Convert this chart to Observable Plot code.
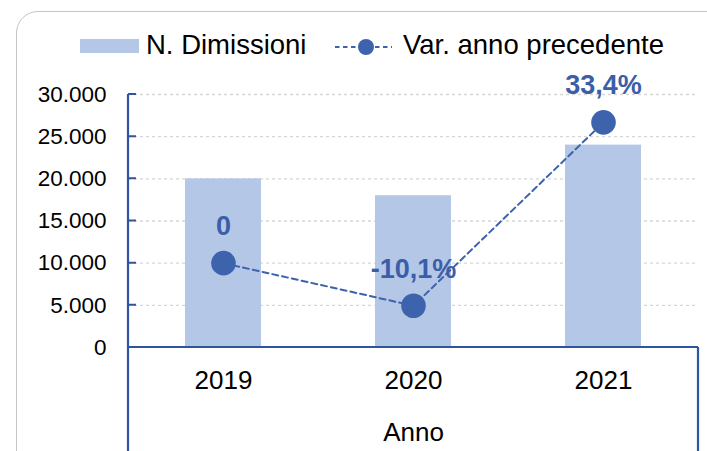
<!DOCTYPE html>
<html><head><meta charset="utf-8">
<script src="https://cdn.jsdelivr.net/npm/d3@7"></script>
<script src="https://cdn.jsdelivr.net/npm/@observablehq/plot@0.6"></script>
<style>
html,body{margin:0;padding:0;background:#fff;overflow:hidden;}
#wrap{position:relative;width:707px;height:451px;overflow:hidden;font-family:"Liberation Sans",Arial,sans-serif;}
#chart{position:absolute;left:0;top:0;}
#border{position:absolute;left:16px;top:11px;width:760px;height:520px;border:1.5px solid #c4c4c4;border-radius:22px;box-sizing:border-box;pointer-events:none;}
#legend{position:absolute;left:0;top:0;}
</style></head>
<body><div id="wrap"><div id="chart"></div><div id="border"></div><svg id="legend" width="707" height="70"></svg></div>
<script>
const years = ["2019", "2020", "2021"];
const dimissioni = [20000, 18000, 24000];
const varPct = [0, -10.1, 33.4];
const varLabels = ["0", "-10,1%", "33,4%"];
const yTicks = [0, 5000, 10000, 15000, 20000, 25000, 30000];
const secondaryDomain = [-20, 40];
const seriesNames = ["N. Dimissioni", "Var. anno precedente"];
const axisTitle = "Anno";

const barColor = "#b4c7e7";
const lineColor = "#3d63ad";
const labelColor = "#3b5ea8";
const axisColor = "#2f55a0";
const font = '"Liberation Sans", Arial, sans-serif';

const fmt = d3.formatLocale({decimal: ",", thousands: ".", grouping: [3], currency: ["", "€"]}).format(",");
const sec = d3.scaleLinear().domain(secondaryDomain).range([yTicks[0], yTicks[yTicks.length - 1]]);
const data = years.map((y, i) => ({year: y, n: dimissioni[i], yl: sec(varPct[i]), label: varLabels[i]}));

function axisBox(index, scales, values, dims) {
  const x0 = dims.marginLeft, x1 = dims.width - dims.marginRight;
  const yb = dims.height - dims.marginBottom, yt = dims.marginTop;
  const g = d3.create("svg:g").attr("fill", "none").attr("stroke", axisColor);
  const tickLen = 8;
  g.append("path")
    .attr("d", yTicks.map(v => `M${x0},${scales.y(v)}h${tickLen}`).join(""))
    .attr("stroke-width", 2);
  g.append("path")
    .attr("d", `M${x0},${yt}V${dims.height}M${x1},${yb}V${dims.height}M${x0},${yb}H${x1}`)
    .attr("stroke-width", 2.2);
  return g.node();
}

const chart = Plot.plot({
  width: 707,
  height: 451,
  marginLeft: 128,
  marginRight: 9,
  marginTop: 94,
  marginBottom: 104,
  style: {fontFamily: font, background: "transparent"},
  x: {domain: years, paddingInner: 0.6, paddingOuter: 0.3},
  y: {domain: [0, 30000]},
  marks: [
    Plot.gridY(yTicks.slice(1), {stroke: "#d6d6d6", strokeOpacity: 1, strokeWidth: 1.3, strokeDasharray: "3,3"}),
    Plot.barY(data, {x: "year", y: "n", fill: barColor}),
    Plot.line(data, {x: "year", y: "yl", stroke: lineColor, strokeWidth: 2, strokeDasharray: "6,4"}),
    Plot.dot(data, {x: "year", y: "yl", r: 12.3, fill: lineColor}),
    Plot.text(data, {x: "year", y: "yl", text: "label", lineAnchor: "bottom", dy: -28, fontWeight: "bold", fontSize: 27, fill: labelColor}),
    Plot.axisY({ticks: yTicks, tickSize: 0, tickPadding: 22, tickFormat: fmt, fontSize: 22.5, fill: "#000", label: null}),
    Plot.axisX({tickSize: 0, tickPadding: 23, fontSize: 26, fill: "#000", label: null}),
    Plot.text([axisTitle], {frameAnchor: "bottom", dy: 93, lineAnchor: "bottom", fontSize: 26, fill: "#000", text: d => d}),
    axisBox
  ]
});
document.getElementById("chart").appendChild(chart);

const lg = d3.select("#legend").attr("font-family", font);
lg.append("rect").attr("x", 80).attr("y", 39).attr("width", 59).attr("height", 14).attr("fill", barColor);
lg.append("text").attr("x", 146).attr("y", 54).attr("font-size", 27.5).attr("fill", "#000").text(seriesNames[0]);
lg.append("line").attr("x1", 335).attr("x2", 392).attr("y1", 47).attr("y2", 47)
  .attr("stroke", lineColor).attr("stroke-width", 2).attr("stroke-dasharray", "4.5,3.5");
lg.append("circle").attr("cx", 366).attr("cy", 47).attr("r", 8).attr("fill", lineColor);
lg.append("text").attr("x", 403).attr("y", 54).attr("font-size", 27.5).attr("fill", "#000").text(seriesNames[1]);
</script>
</body></html>
